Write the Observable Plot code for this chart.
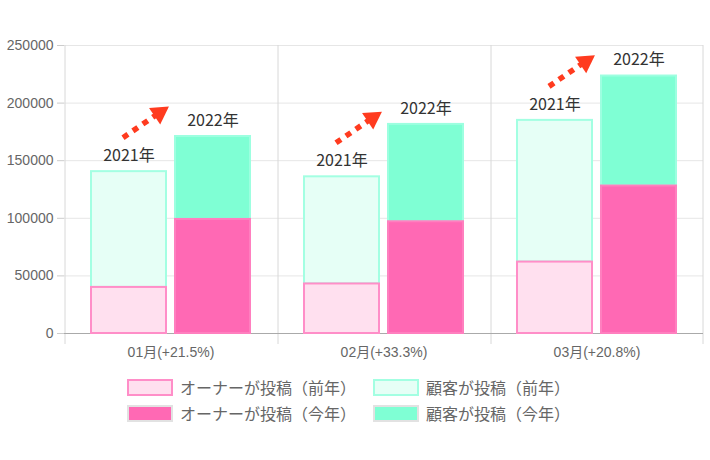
<!DOCTYPE html>
<html><head><meta charset="utf-8">
<script src="https://cdn.jsdelivr.net/npm/d3@7"></script>
<script src="https://cdn.jsdelivr.net/npm/@observablehq/plot@0.6"></script>
<style>
body{margin:0;background:#fff;font-family:"Liberation Sans",Arial,"Noto Sans CJK JP",sans-serif;}
#chart svg{display:block}
g[aria-label^="y-axis"] line, g[aria-label="y-axis tick"] path{stroke:#cccccc;stroke-opacity:1}
.legend{display:grid;grid-template-columns:246px auto;row-gap:9px;padding:14px 0 0 127px}
.item{display:flex;align-items:center;height:17px}
.sw{width:46px;height:17px;box-sizing:border-box;border:2px solid;margin-right:7px}
.lt{font-family:"Noto Sans CJK JP",sans-serif;font-size:16px;color:#666;line-height:17px;white-space:nowrap}
</style></head>
<body><div id="chart"></div><div class="legend" id="legend"></div>
<script>
// ---- data ----
const months = ["01月", "02月", "03月"];
const monthLabels = ["01月(+21.5%)", "02月(+33.3%)", "03月(+20.8%)"];
const years = ["2021", "2022"];
const yearLabels = ["2021年", "2022年"];
const seriesNames = ["オーナーが投稿（前年）", "顧客が投稿（前年）", "オーナーが投稿（今年）", "顧客が投稿（今年）"];
const owner2021 = [40000, 43000, 62000];
const customer2021 = [100500, 93000, 123000];
const owner2022 = [99000, 97000, 128000];
const customer2022 = [72000, 84500, 95500];
const yTicks = [0, 50000, 100000, 150000, 200000, 250000];

// ---- styles ----
const seriesStyle = {
  [seriesNames[0]]: {fill: "#ffe0ef", stroke: "#ff8ec8", legend: "#ff8ec8"},
  [seriesNames[1]]: {fill: "#e6fff6", stroke: "#a3ffe2", legend: "#a3ffe2"},
  [seriesNames[2]]: {fill: "#ff69b4", stroke: "#ff7fbf", legend: "#e2e2e2"},
  [seriesNames[3]]: {fill: "#7fffd4", stroke: "#9dffe0", legend: "#e2e2e2"}
};
const arrowColor = "#ff3b1f";
const rise = 50000; // arrow rise (value units) over one year step

// ---- table ----
const table = [];
months.forEach((m, i) => {
  const t21 = owner2021[i] + customer2021[i], t22 = owner2022[i] + customer2022[i];
  table.push({type: "bar", month: m, year: years[0], series: seriesNames[1], y1: owner2021[i], y2: t21});
  table.push({type: "bar", month: m, year: years[1], series: seriesNames[3], y1: owner2022[i], y2: t22});
  table.push({type: "bar", month: m, year: years[0], series: seriesNames[0], y1: 0, y2: owner2021[i]});
  table.push({type: "bar", month: m, year: years[1], series: seriesNames[2], y1: 0, y2: owner2022[i]});
  table.push({type: "label", month: m, year: years[0], text: yearLabels[0], top: t21});
  table.push({type: "label", month: m, year: years[1], text: yearLabels[1], top: t22});
  table.push({type: "arrow", month: m, top: t21});
});
const sty = (d, k) => (seriesStyle[d.series] ? seriesStyle[d.series][k] : null);

const chart = Plot.plot({
  width: 710, height: 365,
  marginLeft: 64, marginRight: 7, marginTop: 45, marginBottom: 32,
  style: {fontFamily: '"Liberation Sans", Arial, "Noto Sans CJK JP", sans-serif', fontSize: "14px", color: "#666", background: "transparent"},
  facet: {data: table, x: "month"},
  fx: {domain: months, padding: 0, axis: "bottom", tickSize: 0, tickPadding: 14, label: null,
       tickFormat: m => monthLabels[months.indexOf(m)]},
  x: {domain: years, axis: null, paddingInner: 9 / 85, paddingOuter: 0.306},
  y: {domain: [0, 250000], ticks: yTicks, tickSize: 7, tickPadding: 4, label: null, tickFormat: d => String(d)},
  color: {type: "identity"},
  marks: [
    Plot.ruleY(yTicks, {stroke: "#e6e6e6"}),
    Plot.ruleX([years[0]], {x: d => d, dx: -64, insetBottom: -11, stroke: "#d8d8d8"}),
    Plot.ruleX(table, {filter: d => d.type === "arrow" && d.month === months[months.length - 1],
      x: () => years[1], dx: 64, insetBottom: -11, stroke: "#d8d8d8"}),
    Plot.ruleY([0], {stroke: "#aaaaaa"}),
    Plot.barY(table, {filter: d => d.type === "bar", x: "year", y1: "y1", y2: "y2",
      fill: d => sty(d, "fill"), stroke: d => sty(d, "stroke"), strokeWidth: 2}),
    Plot.text(table, {filter: d => d.type === "label", x: "year", y: "top", text: "text", dy: -16,
      fill: "#333", fontSize: 16, fontFamily: '"Noto Sans CJK JP", sans-serif'}),
    Plot.arrow(table, {filter: d => d.type === "arrow", x1: () => years[0], x2: () => years[1],
      y1: "top", y2: d => d.top + rise, dx: -6, dy: -34, insetEnd: 63, headLength: 0,
      stroke: arrowColor, strokeWidth: 5.5, strokeDasharray: "6,6", strokeLinecap: "butt"}),
    Plot.dot(table, {filter: d => d.type === "arrow", x: () => years[0], y: "top", dx: 30.4, dy: -58.7,
      symbol: "triangle", r: 7.4, fill: arrowColor, stroke: "none", rotate: 56})
  ]
});
document.getElementById("chart").appendChild(chart);

const legend = document.getElementById("legend");
seriesNames.forEach(name => {
  const s = seriesStyle[name];
  const item = document.createElement("div");
  item.className = "item";
  const sw = document.createElement("div");
  sw.className = "sw";
  sw.style.background = s.fill;
  sw.style.borderColor = s.legend;
  const lt = document.createElement("span");
  lt.className = "lt";
  lt.textContent = name;
  item.appendChild(sw); item.appendChild(lt);
  legend.appendChild(item);
});
</script></body></html>
